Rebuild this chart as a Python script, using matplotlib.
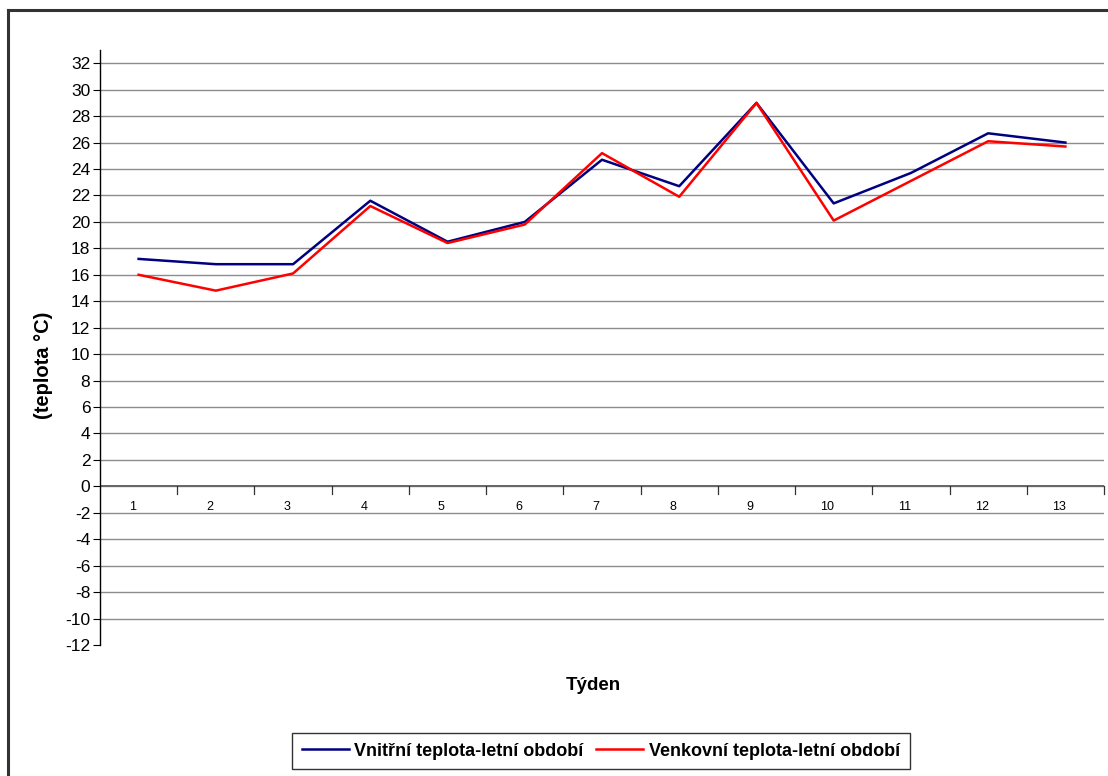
import matplotlib
matplotlib.use("Agg")
import matplotlib.pyplot as plt
from matplotlib import font_manager
from matplotlib.lines import Line2D

weeks = ["1", "2", "3", "4", "5", "6", "7", "8", "9", "10", "11", "12", "13"]
inner_temp = [17.2, 16.8, 16.8, 21.6, 18.5, 20.0, 24.7, 22.7, 29.0, 21.4, 23.7, 26.7, 26.0]
outer_temp = [16.0, 14.8, 16.1, 21.2, 18.4, 19.8, 25.2, 21.9, 29.0, 20.1, 23.1, 26.1, 25.7]
series_names = ["Vnitřní teplota-letní období", "Venkovní teplota-letní období"]
y_ticks = list(range(-12, 33, 2))

avail = {f.name for f in font_manager.fontManager.ttflist}
narrow = "Liberation Sans Narrow" if "Liberation Sans Narrow" in avail else "Liberation Sans"
plt.rcParams["font.family"] = ["Liberation Sans", "DejaVu Sans"]

W, H = 1108, 776
fig = plt.figure(figsize=(W / 100, H / 100), dpi=100)

# outer chart frame (left and top edges visible)
fig.add_artist(Line2D([8 / W, 8 / W], [0, 1 - 10 / H], transform=fig.transFigure,
                      color="#333333", lw=2.2))
fig.add_artist(Line2D([8 / W, 1], [1 - 10 / H, 1 - 10 / H], transform=fig.transFigure,
                      color="#333333", lw=2.2))

left, right, top, bottom = 100, 1104, 50, 645
ax = fig.add_axes([left / W, 1 - bottom / H, (right - left) / W, (bottom - top) / H])

x = list(range(len(weeks)))
l1, = ax.plot(x, inner_temp, color="#000080", lw=1.8, label=series_names[0])
l2, = ax.plot(x, outer_temp, color="#ff0000", lw=1.8, label=series_names[1])

ax.set_xlim(-0.5, len(weeks) - 0.5)
ax.set_ylim(-12, 33)
ax.set_yticks(y_ticks)
ax.set_yticklabels([str(v) for v in y_ticks], fontsize=12.5, family=narrow)
for v in y_ticks:
    if v > -12:
        ax.axhline(v, color="#8c8c8c", lw=1.0, zorder=0)
ax.tick_params(axis="y", direction="out", length=5, width=0.8, pad=2)

for s in ["top", "right", "bottom"]:
    ax.spines[s].set_visible(False)
ax.spines["left"].set_linewidth(1.0)

# x-axis at y=0 with category separator ticks
ax.axhline(0, color="#666666", lw=1.4, zorder=1)
ax.set_xticks([])
for i in range(1, len(weeks) + 1):
    ax.plot([i - 0.5, i - 0.5], [0, -0.55], color="#333333", lw=0.9, clip_on=False)
for i, lab in enumerate(weeks):
    ax.text(i - 0.08, -1.1, lab, ha="center", va="top", fontsize=9, family=narrow)

ax.set_ylabel("(teplota °C)", fontsize=14.5, fontweight="bold")
ax.yaxis.set_label_coords(-47 / (right - left), 0.47)
fig.text(593 / W, 1 - 685 / H, "Týden", ha="center", va="center",
         fontsize=13.5, fontweight="bold")

leg = fig.legend(handles=[l1, l2], loc="center", bbox_to_anchor=(601 / W, 1 - 751 / H),
                 ncol=2, frameon=True, fancybox=False, edgecolor="black",
                 handlelength=2.6, handletextpad=0.3, columnspacing=0.7,
                 prop={"family": narrow, "weight": "bold", "size": 13.0},
                 borderpad=0.55)
leg.get_frame().set_linewidth(1.0)

fig.savefig("out.png", dpi=100)
